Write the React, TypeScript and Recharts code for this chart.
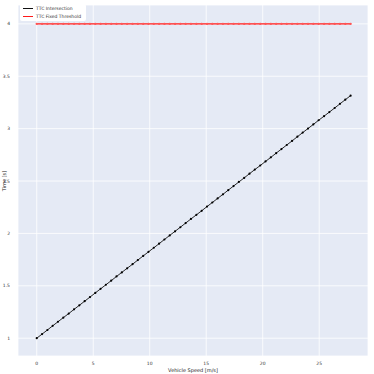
import { LineChart, Line, XAxis, YAxis, CartesianGrid } from "recharts";

const speeds = [
  0, 0.47, 0.94, 1.41, 1.88, 2.35, 2.83, 3.3, 3.77, 4.24,
  4.71, 5.18, 5.65, 6.12, 6.59, 7.06, 7.53, 8.0, 8.48, 8.95,
  9.42, 9.89, 10.36, 10.83, 11.3, 11.77, 12.24, 12.71, 13.18, 13.65,
  14.13, 14.6, 15.07, 15.54, 16.01, 16.48, 16.95, 17.42, 17.89, 18.36,
  18.83, 19.3, 19.78, 20.25, 20.72, 21.19, 21.66, 22.13, 22.6, 23.07,
  23.54, 24.01, 24.48, 24.95, 25.43, 25.9, 26.37, 26.84, 27.31, 27.78,
];

const ttcIntersection = [
  1.0, 1.039, 1.078, 1.118, 1.157, 1.196, 1.235, 1.275, 1.314, 1.353,
  1.392, 1.432, 1.471, 1.51, 1.549, 1.589, 1.628, 1.667, 1.706, 1.746,
  1.785, 1.824, 1.863, 1.902, 1.942, 1.981, 2.02, 2.059, 2.099, 2.138,
  2.177, 2.216, 2.256, 2.295, 2.334, 2.373, 2.413, 2.452, 2.491, 2.53,
  2.57, 2.609, 2.648, 2.687, 2.726, 2.766, 2.805, 2.844, 2.883, 2.923,
  2.962, 3.001, 3.04, 3.08, 3.119, 3.158, 3.197, 3.237, 3.276, 3.315,
];

const ttcThreshold = [
  4, 4, 4, 4, 4, 4, 4, 4, 4, 4,
  4, 4, 4, 4, 4, 4, 4, 4, 4, 4,
  4, 4, 4, 4, 4, 4, 4, 4, 4, 4,
  4, 4, 4, 4, 4, 4, 4, 4, 4, 4,
  4, 4, 4, 4, 4, 4, 4, 4, 4, 4,
  4, 4, 4, 4, 4, 4, 4, 4, 4, 4,
];

const xTicks = [0, 5, 10, 15, 20, 25];
const yTicks = [1, 1.5, 2, 2.5, 3, 3.5, 4];

const seriesNames = ["TTC Intersection", "TTC Fixed Threshold"];
const seriesColors = ["#111111", "#ff1a1a"];

const data = speeds.map((v, i) => ({
  speed: v,
  intersection: ttcIntersection[i],
  threshold: ttcThreshold[i],
}));

const font = "'DejaVu Sans', sans-serif";

// legend drawn over the plot, like matplotlib's upper-left box
const LegendBox = () => (
  <div
    style={{
      position: "absolute",
      left: 20,
      top: 4,
      background: "#fff",
      borderRadius: 2,
      padding: "1px 5px 1px 3px",
      fontFamily: font,
      fontSize: 4.5,
      color: "#333",
      lineHeight: "7.5px",
    }}
  >
    {seriesNames.map((name, i) => (
      <div key={name} style={{ display: "flex", alignItems: "center" }}>
        <span
          style={{
            display: "inline-block",
            width: 10,
            height: 1.2,
            background: seriesColors[i],
            marginRight: 3,
          }}
        />
        {name}
      </div>
    ))}
  </div>
);

const YLabel = () => (
  <text
    x={4}
    y={181}
    transform="rotate(-90 4 181)"
    textAnchor="middle"
    dominantBaseline="central"
    fontSize={5}
    fill="#222"
    fontFamily={font}
  >
    Time [s]
  </text>
);

export default function App() {
  return (
    <div style={{ position: "absolute", left: 0, top: 0, width: 374, height: 374, background: "#fff" }}>
      <LineChart
        width={374}
        height={374}
        data={data}
        margin={{ top: 5, right: 6, left: 0, bottom: 0 }}
      >
        <CartesianGrid fill="#e5eaf5" stroke="#ffffff" strokeWidth={0.8} />
        <XAxis
          dataKey="speed"
          type="number"
          domain={[-1.66, 29.32]}
          ticks={xTicks}
          height={18}
          tickLine={false}
          axisLine={false}
          tickMargin={0}
          tick={{ fontSize: 4.5, fill: "#333", fontFamily: font }}
          label={{
            value: "Vehicle Speed [m/s]",
            position: "insideBottom",
            offset: 2,
            fontSize: 5,
            fill: "#222",
            fontFamily: font,
          }}
        />
        <YAxis
          type="number"
          domain={[0.83, 4.18]}
          ticks={yTicks}
          width={18}
          tickLine={false}
          axisLine={false}
          tickMargin={2}
          tick={{ fontSize: 4.5, fill: "#333", fontFamily: font }}
          label={<YLabel />}
        />
        <Line
          dataKey="intersection"
          name={seriesNames[0]}
          stroke={seriesColors[0]}
          strokeWidth={0.9}
          dot={{ r: 1.1, fill: "#000", stroke: "none" }}
          isAnimationActive={false}
        />
        <Line
          dataKey="threshold"
          name={seriesNames[1]}
          stroke={seriesColors[1]}
          strokeWidth={1.2}
          dot={{ r: 1.2, fill: "#ff5555", stroke: "none" }}
          isAnimationActive={false}
        />
      </LineChart>
      <LegendBox />
    </div>
  );
}
